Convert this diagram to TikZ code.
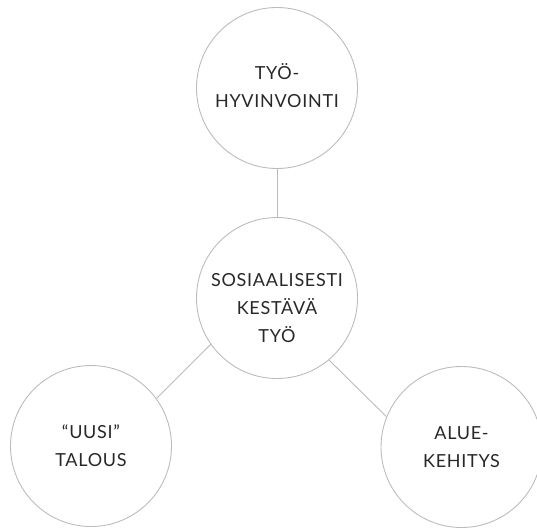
\documentclass[tikz,border=0pt]{standalone}
\usepackage{fontspec}
\setmainfont[LetterSpace=4]{Lato}
\definecolor{ringgray}{RGB}{188,188,188}
\definecolor{inkgray}{RGB}{40,40,40}
\begin{document}
\begin{tikzpicture}[x=1pt,y=-1pt,
  ring/.style={circle,draw=ringgray,line width=0.9pt,minimum size=161pt,inner sep=0pt},
  link/.style={draw=ringgray,line width=0.9pt},
  caption/.style={align=center,text=inkgray,inner sep=0pt,
    font=\fontsize{18}{28}\selectfont}]
  \useasboundingbox (0,0) rectangle (537,527);
  \clip (0,0) rectangle (537,527);

  % the four circles
  \node[ring] (top)    at (277,88)    {};
  \node[ring] (core)   at (277,298)   {};
  \node[ring] (left)   at (91,446)    {};
  \node[ring] (right)  at (461.5,447) {};

  % connectors
  \draw[link] (top.south) -- (core.north);
  \draw[link] (core.215) -- (left.36);
  \draw[link] (core.-50) -- (right.158);

  % texts
  \node[caption] (ttop)   at (277,86)  {TYÖ-\\HYVINVOINTI};
  \node[caption] (tcore)  at (277,308) {SOSIAALISESTI\\KESTÄVÄ\\TYÖ};
  \node[caption] (tleft)  at (91,446)  {“UUSI”\\TALOUS};
  \node[caption] (tright) at (461.5,447) {ALUE-\\KEHITYS};
\end{tikzpicture}
\end{document}
